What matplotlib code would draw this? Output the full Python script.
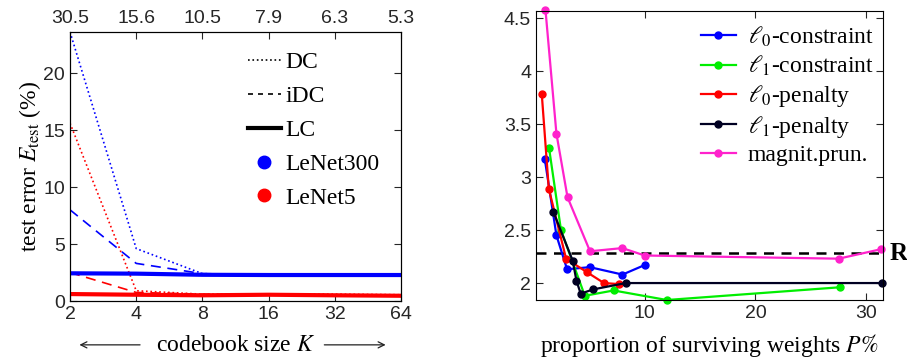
import numpy as np
import matplotlib
matplotlib.use("Agg")
import matplotlib.pyplot as plt
from matplotlib.lines import Line2D

plt.rcParams['mathtext.fontset'] = 'stix'
plt.rcParams['font.family'] = ['Liberation Serif', 'DejaVu Serif']

# left panel: error vs codebook size
K = [2, 4, 8, 16, 32, 64]
ratio_labels = ['30.5', '15.6', '10.5', '7.9', '6.3', '5.3']
dc_lenet300 = [23.6, 4.6, 2.4, 2.3, 2.3, 2.3]
idc_lenet300 = [8.0, 3.3, 2.4, 2.3, 2.3, 2.3]
lc_lenet300 = [2.43, 2.4, 2.3, 2.28, 2.28, 2.28]
dc_lenet5 = [15.6, 0.9, 0.6, 0.6, 0.6, 0.55]
idc_lenet5 = [2.5, 0.75, 0.6, 0.55, 0.55, 0.5]
lc_lenet5 = [0.61, 0.55, 0.5, 0.55, 0.5, 0.46]

# right panel: error vs proportion of surviving weights
l0c_x = [0.99, 2.04, 3.0, 5.05, 8.0, 10.0]
l0c_y = [3.17, 2.45, 2.13, 2.15, 2.08, 2.17]
l1c_x = [1.38, 2.45, 4.6, 7.2, 12.0, 27.6]
l1c_y = [3.27, 2.50, 1.88, 1.93, 1.84, 1.96]
l0p_x = [0.72, 1.35, 2.91, 4.83, 6.33, 7.7]
l0p_y = [3.78, 2.89, 2.23, 2.10, 2.0, 1.99]
l1p_x = [1.77, 3.51, 3.85, 4.23, 5.35, 8.29, 31.4]
l1p_y = [2.67, 2.21, 2.02, 1.90, 1.94, 2.0, 2.0]
mp_x = [1.05, 2.04, 3.04, 5.07, 7.99, 10.0, 27.5, 31.35]
mp_y = [4.58, 3.41, 2.81, 2.30, 2.33, 2.26, 2.23, 2.32]
ref_err = 2.28

tick_font = dict(family='Liberation Sans', size=14)
tick_col = '#262626'
txt_size = 17

fig = plt.figure(figsize=(9.07, 3.58), dpi=100)
ax = fig.add_axes([0.0772, 0.1592, 0.3649, 0.7514])

# lines (dotted/dashed first so LC goes on top)
ax.plot(K, dc_lenet300, color='blue', ls=':', lw=1.2)
ax.plot(K, dc_lenet5, color='red', ls=':', lw=1.2)
ax.plot(K, idc_lenet300, color='blue', ls=(0, (6, 4)), lw=1.2)
ax.plot(K, idc_lenet5, color='red', ls=(0, (6, 4)), lw=1.2)
ax.plot(K, lc_lenet300, color='blue', lw=3)
ax.plot(K, lc_lenet5, color='red', lw=3)

ax.set_xscale('log', base=2)
ax.set_xlim(2, 64)
ax.set_ylim(0, 23.6)
ax.set_xticks(K)
ax.set_xticklabels([str(k) for k in K])
ax.xaxis.set_minor_locator(plt.NullLocator())
ax.set_yticks([0, 5, 10, 15, 20])
ax.tick_params(direction='in', right=True, length=5, colors=tick_col)
for lab in ax.get_xticklabels() + ax.get_yticklabels():
    lab.set(**tick_font)

ax2 = ax.twiny()
ax2.set_xscale('log', base=2)
ax2.set_xlim(2, 64)
ax2.set_xticks(K)
ax2.set_xticklabels(ratio_labels)
ax2.xaxis.set_minor_locator(plt.NullLocator())
ax2.tick_params(direction='in', length=5, colors=tick_col)
for lab in ax2.get_xticklabels():
    lab.set(**tick_font)

ax.set_ylabel(r'test error $E_{\mathrm{test}}$ (%)', fontsize=txt_size, labelpad=0)
ax.set_xlabel(r'codebook size $K$', fontsize=txt_size, labelpad=9)
# long arrows either side of the x label
arrow_kw = dict(arrowstyle='->', lw=0.9, color='#222222', mutation_scale=11)
ax.annotate('', xy=(0.02, -0.163), xytext=(0.22, -0.163), xycoords='axes fraction',
            textcoords='axes fraction', arrowprops=arrow_kw, annotation_clip=False)
ax.annotate('', xy=(0.962, -0.163), xytext=(0.76, -0.163), xycoords='axes fraction',
            textcoords='axes fraction', arrowprops=arrow_kw, annotation_clip=False)

handles = [Line2D([], [], color='k', ls=':', lw=1.2),
           Line2D([], [], color='k', ls=(0, (3, 3)), lw=1.2),
           Line2D([], [], color='k', lw=3),
           Line2D([], [], color='blue', marker='o', ls='none', ms=9),
           Line2D([], [], color='red', marker='o', ls='none', ms=9)]
ax.legend(handles, ['DC', 'iDC', 'LC', 'LeNet300', 'LeNet5'], frameon=False,
          fontsize=txt_size, loc='upper right', bbox_to_anchor=(1.0, 1.005),
          handlelength=1.4, handletextpad=0.2, labelspacing=0.52)

# right panel
bx = fig.add_axes([0.591, 0.162, 0.3825, 0.808])
bx.axhline(ref_err, color='k', ls=(0, (4, 3)), lw=1.8, zorder=1)
series = [(l0c_x, l0c_y, 'blue', r'$\ell_0$-constraint'),
          (l1c_x, l1c_y, '#00ee00', r'$\ell_1$-constraint'),
          (l0p_x, l0p_y, 'red', r'$\ell_0$-penalty'),
          (l1p_x, l1p_y, '#000022', r'$\ell_1$-penalty'),
          (mp_x, mp_y, '#ff22cc', 'magnit.prun.')]
for xs, ys, c, lab in series:
    bx.plot(xs, ys, color=c, lw=1.6, marker='o', ms=5, label=lab, clip_on=False)

bx.set_xlim(0.2, 31.5)
bx.set_ylim(1.84, 4.57)
bx.set_xticks([10, 20, 30])
bx.set_yticks([2, 2.5, 3, 3.5, 4, 4.5])
bx.set_yticklabels(['2', '2.5', '3', '3.5', '4', '4.5'])
bx.tick_params(direction='in', right=True, top=True, length=5, colors=tick_col)
for lab in bx.get_xticklabels() + bx.get_yticklabels():
    lab.set(**tick_font)
bx.set_xlabel(r'proportion of surviving weights $P\%$', fontsize=txt_size, labelpad=7)
bx.text(1.02, ref_err, 'R', transform=bx.get_yaxis_transform(), fontsize=18,
        fontweight='bold', va='center', ha='left')
bx.legend(frameon=False, fontsize=txt_size, loc='upper right', bbox_to_anchor=(1.035, 1.025),
          handlelength=1.5, handletextpad=0.5, labelspacing=0.2)

fig.savefig('out.png', dpi=100)
